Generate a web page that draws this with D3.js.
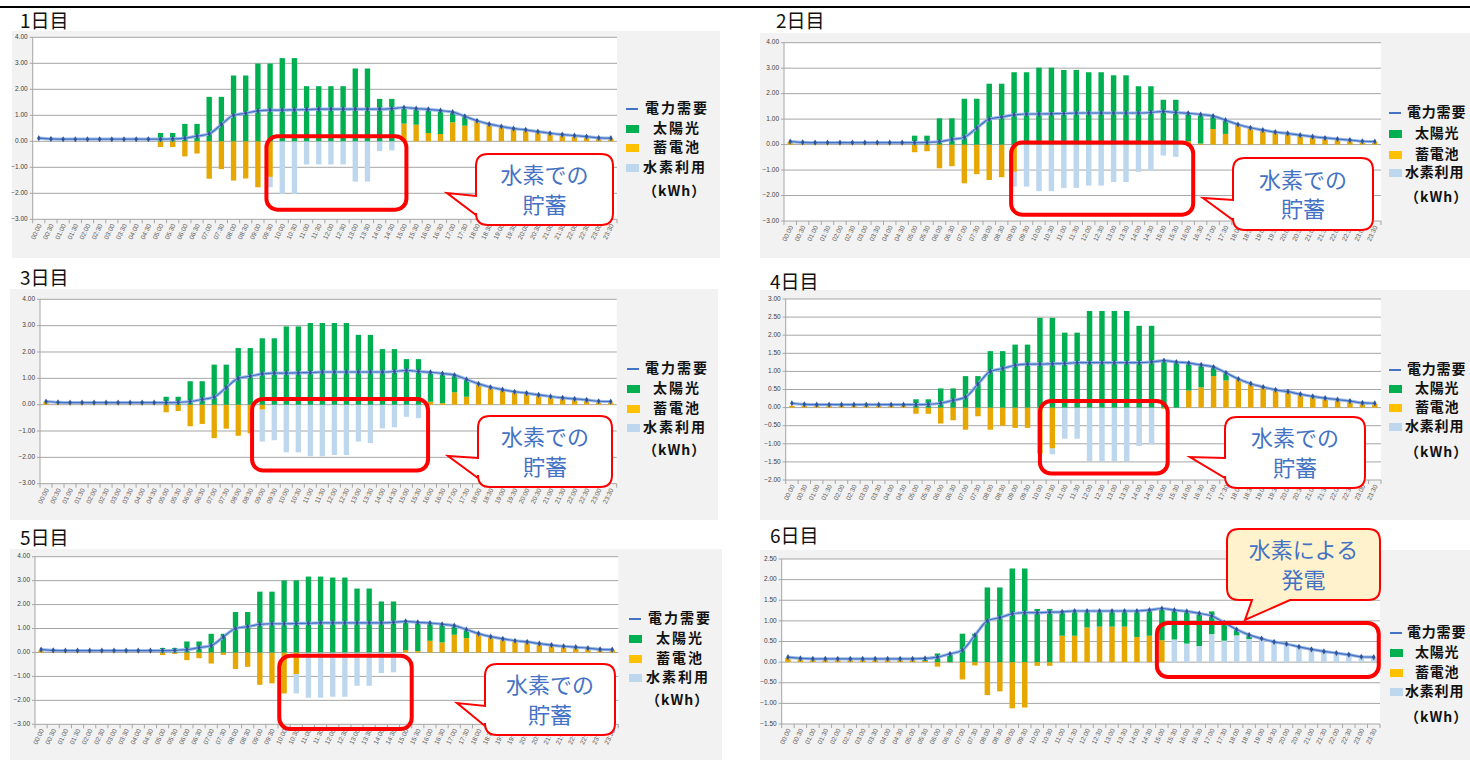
<!DOCTYPE html>
<html>
<head>
<meta charset="utf-8">
<script src="https://cdn.jsdelivr.net/npm/d3@7"></script>
<style>
  body { margin: 0; background: #fff; }
  svg { display: block; font-family: "Noto Sans CJK JP", "Noto Sans", sans-serif; }
</style>
</head>
<body>
<svg id="chart" width="1470" height="760"></svg>
<script>
// Half-hour slots (category labels)
const times = ["00:00","00:30","01:00","01:30","02:00","02:30","03:00","03:30","04:00","04:30",
  "05:00","05:30","06:00","06:30","07:00","07:30","08:00","08:30","09:00","09:30",
  "10:00","10:30","11:00","11:30","12:00","12:30","13:00","13:30","14:00","14:30",
  "15:00","15:30","16:00","16:30","17:00","17:30","18:00","18:30","19:00","19:30",
  "20:00","20:30","21:00","21:30","22:00","22:30","23:00","23:30"];

const seriesNames = ["電力需要", "太陽光", "蓄電池", "水素利用"];
const unitLabel = "（kWh）";
const dayTitles = ["1日目", "2日目", "3日目", "4日目", "5日目", "6日目"];

// Demand profile (same shape every day)
const demand = [0.12,0.09,0.08,0.08,0.08,0.08,0.08,0.08,0.08,0.08,
  0.08,0.09,0.12,0.2,0.29,0.65,1.0,1.08,1.17,1.2,
  1.2,1.21,1.22,1.24,1.24,1.24,1.24,1.24,1.24,1.26,
  1.3,1.26,1.23,1.18,1.12,0.96,0.79,0.66,0.57,0.49,
  0.44,0.37,0.31,0.26,0.22,0.18,0.13,0.12];

// Day 1
const solar1 = [0,0,0,0,0,0,0,0,0,0,
  0.32,0.32,0.67,0.67,1.71,1.71,2.53,2.53,2.99,2.99,
  3.2,3.2,2.12,2.12,2.12,2.12,2.8,2.8,1.63,1.63,
  0.6,0.62,0.9,0.9,0.42,0.39,0,0,0,0,
  0,0,0,0,0,0,0,0];
const battery1 = [0,0,0,0,0,0,0,0,0,0,
  -0.22,-0.22,-0.58,-0.47,-1.44,-1.07,-1.51,-1.43,-1.77,-1.37,
  0,0,0,0,0,0,0,0,0,0,
  0.68,0.64,0.32,0.28,0.73,0.6,0.81,0.64,0.55,0.49,
  0.42,0.36,0.3,0.23,0.19,0.15,0.1,0.1];
const hydrogen1 = [0,0,0,0,0,0,0,0,0,0,
  0,0,0,0,0,0,0,0,0,-0.4,
  -2.02,-2.02,-0.89,-0.89,-0.89,-0.89,-1.55,-1.55,-0.38,-0.35,
  0,0,0,0,0,0,0,0,0,0,
  0,0,0,0,0,0,0,0];

// Day 2
const solar2 = [0,0,0,0,0,0,0,0,0,0,
  0.35,0.35,1.03,1.03,1.8,1.8,2.39,2.39,2.84,2.84,
  3.02,3.02,2.93,2.93,2.84,2.84,2.72,2.72,2.29,2.29,
  1.76,1.76,1.11,1.14,0.54,0.53,0,0,0,0,
  0,0,0,0,0,0,0,0];
const battery2 = [0.1,0.08,0.08,0.08,0.08,0.08,0.08,0.08,0.08,0.08,
  -0.3,-0.26,-0.93,-0.85,-1.52,-1.16,-1.39,-1.28,-1.07,0,
  0,0,0,0,0,0,0,0,0,0,
  0,0,0.13,0.04,0.61,0.42,0.78,0.65,0.56,0.48,
  0.42,0.35,0.29,0.24,0.2,0.16,0.1,0.1];
const hydrogen2 = [0,0,0,0,0,0,0,0,0,0,
  0,0,0,0,0,0,0,0,-0.58,-1.65,
  -1.83,-1.83,-1.7,-1.7,-1.61,-1.61,-1.47,-1.47,-1.07,-1.02,
  -0.43,-0.48,0,0,0,0,0,0,0,0,
  0,0,0,0,0,0,0,0];

// Day 3
const solar3 = [0,0,0,0,0,0,0,0,0,0,
  0.3,0.3,0.89,0.89,1.52,1.52,2.15,2.15,2.52,2.52,
  2.97,2.97,3.1,3.1,3.1,3.1,2.65,2.65,2.11,2.11,
  1.73,1.73,1.14,1.14,0.66,0.64,0,0,0,0,
  0,0,0,0,0,0,0,0];
const battery3 = [0.1,0.05,0.05,0.05,0.05,0.05,0.05,0.05,0.05,0.05,
  -0.29,-0.24,-0.82,-0.73,-1.27,-0.91,-1.18,-1.09,-0.19,0,
  0,0,0,0,0,0,0,0,0,0,
  0,0,0.11,0.06,0.47,0.3,0.77,0.65,0.56,0.47,
  0.41,0.37,0.3,0.25,0.22,0.15,0.09,0.09];
const hydrogen3 = [0,0,0,0,0,0,0,0,0,0,
  0,0,0,0,0,0,0,0,-1.21,-1.35,
  -1.81,-1.81,-1.96,-1.96,-1.91,-1.91,-1.4,-1.46,-0.9,-0.86,
  -0.46,-0.51,0,0,0,0,0,0,0,0,
  0,0,0,0,0,0,0,0];

// Day 4
const solar4 = [0,0,0,0,0,0,0,0,0,0,
  0.23,0.23,0.53,0.53,0.87,0.87,1.56,1.56,1.74,1.74,
  2.48,2.48,2.07,2.07,2.67,2.67,2.67,2.67,2.26,2.26,
  1.31,1.24,0.75,0.62,0.25,0.2,0,0,0,0,
  0,0,0,0,0,0,0,0];
const battery4 = [0.05,0.05,0.05,0.05,0.05,0.05,0.05,0.05,0.05,0.05,
  -0.17,-0.17,-0.44,-0.35,-0.61,-0.24,-0.61,-0.5,-0.56,-0.56,
  -1.27,-1.13,0,0,0,0,0,0,0,0,
  -0.03,0,0.47,0.56,0.87,0.75,0.79,0.65,0.57,0.49,
  0.43,0.36,0.31,0.25,0.21,0.17,0.12,0.1];
const hydrogen4 = [0,0,0,0,0,0,0,0,0,0,
  0,0,0,0,0,0,0,0,0,0,
  0,-0.16,-0.86,-0.86,-1.48,-1.48,-1.48,-1.48,-1.06,-1.02,
  0,0,0,0,0,0,0,0,0,0,
  0,0,0,0,0,0,0,0];

// Day 5
const solar5 = [0,0,0,0,0,0,0,0,0,0,
  0.19,0.19,0.46,0.46,0.78,0.78,1.69,1.69,2.54,2.54,
  3.01,3.01,3.17,3.17,3.13,3.13,2.67,2.67,2.13,2.13,
  1.25,1.19,0.76,0.76,0.37,0.37,0,0,0,0,
  0,0,0,0,0,0,0,0];
const battery5 = [0.1,0.05,0.05,0.05,0.05,0.05,0.05,0.05,0.05,0.05,
  -0.11,-0.06,-0.32,-0.24,-0.46,-0.1,-0.69,-0.6,-1.35,-1.29,
  -1.71,-0.9,0,0,0,0,0,0,0,0,
  0.1,0.06,0.49,0.42,0.74,0.6,0.79,0.65,0.56,0.49,
  0.42,0.38,0.31,0.25,0.21,0.17,0.11,0.11];
const hydrogen5 = [0,0,0,0,0,0,0,0,0,0,
  0,0,0,0,0,0,0,0,0,0,
  0,-0.81,-1.89,-1.89,-1.85,-1.85,-1.39,-1.39,-0.86,-0.83,
  0,0,0,0,0,0,0,0,0,0,
  0,0,0,0,0,0,0,0];

// Day 6
const solar6 = [0,0,0,0,0,0,0,0,0,0,
  0,0.07,0.21,0.2,0.69,0.69,1.81,1.81,2.27,2.27,
  1.29,1.29,0.59,0.6,0.4,0.38,0.38,0.38,0.63,0.63,
  0.76,0.71,0.78,0.77,0.55,0.42,0.14,0.12,0,0,
  0,0,0,0,0,0,0,0];
const battery6 = [0.1,0.1,0.07,0.07,0.07,0.07,0.07,0.07,0.07,0.07,
  0.07,0.03,-0.11,-0.01,-0.42,-0.08,-0.8,-0.71,-1.12,-1.1,
  -0.09,-0.09,0.64,0.64,0.84,0.86,0.86,0.86,0.61,0.64,
  0.53,0,0,0,0,0,0,0,0,0,
  0,0,0,0,0,0,0,0];
const hydrogen6 = [0,0,0,0,0,0,0,0,0,0,
  0,0,0,0,0,0,0,0,0,0,
  0,0,0,0,0,0,0,0,0,0,
  0,0.55,0.45,0.39,0.68,0.52,0.65,0.56,0.57,0.49,
  0.43,0.35,0.29,0.25,0.21,0.19,0.13,0.11];

const solarDays = [solar1, solar2, solar3, solar4, solar5, solar6];
const batteryDays = [battery1, battery2, battery3, battery4, battery5, battery6];
const hydrogenDays = [hydrogen1, hydrogen2, hydrogen3, hydrogen4, hydrogen5, hydrogen6];

// Colours
const colDemand = "#4472C4";
const colSolar = "#00B050";
const colBattery = "#E6A800";
const colBatteryLegend = "#FFC000";
const colHydrogen = "#BDD7EE";
const colRed = "#FF0000";

// Panel layout (page pixels)
const panels = [
  { bg: [12, 31, 708, 227], title: [20, 28], x0: 32.7, x1: 617, yTop: 37.3, yBot: 219.3, dom: [-3, 4], step: 1,
    lx: 626, ltx: 645, ls: 2, ly: [109, 129, 148, 168, 192],
    box: [19.2, 30.7, 0.19, -2.63],
    call: { x: 476, y: 154, w: 137, h: 71, side: "left", ta: 196, tb: 215, tip: [447, 193], lines: ["水素での", "貯蓄"], fill: "#fff" } },
  { bg: [760, 33, 710, 225], title: [776, 28], x0: 784, x1: 1381, yTop: 42.7, yBot: 221, dom: [-3, 4], step: 1,
    lx: 1389, ltx: 1407, ls: 0.8, ly: [113, 134, 155, 173, 198],
    box: [18.26, 32.9, 0.08, -2.75],
    call: { x: 1233, y: 158, w: 140, h: 72, side: "left", ta: 200, tb: 220, tip: [1203, 198], lines: ["水素での", "貯蓄"], fill: "#fff" } },
  { bg: [10, 289, 708, 231], title: [20, 285], x0: 40, x1: 616.7, yTop: 299.3, yBot: 483.7, dom: [-3, 4], step: 1,
    lx: 627, ltx: 645, ls: 2, ly: [369, 389, 409, 428, 451],
    box: [17.65, 32.3, 0.22, -2.5],
    call: { x: 478, y: 416, w: 134, h: 71, side: "left", ta: 458, tb: 478, tip: [448, 456], lines: ["水素での", "貯蓄"], fill: "#fff" } },
  { bg: [760, 290, 710, 230], title: [770, 289], x0: 785.7, x1: 1381, yTop: 299, yBot: 480, dom: [-2, 3], step: 0.5,
    lx: 1389, ltx: 1407, ls: 0.8, ly: [370, 389, 408, 427, 453],
    box: [20.5, 30.8, 0.18, -1.82],
    call: { x: 1225, y: 417, w: 140, h: 71, side: "left", ta: 458, tb: 478, tip: [1190, 457], lines: ["水素での", "貯蓄"], fill: "#fff" } },
  { bg: [10, 549, 712, 211], title: [20, 545], x0: 35, x1: 618.3, yTop: 556.7, yBot: 724.3, dom: [-3, 4], step: 1,
    lx: 629, ltx: 648, ls: 2, ly: [619, 639, 659, 678, 701],
    box: [20.1, 31.0, -0.14, -3.2],
    call: { x: 485, y: 664, w: 130, h: 71, side: "left", ta: 706, tb: 726, tip: [457, 703], lines: ["水素での", "貯蓄"], fill: "#fff" } },
  { bg: [760, 550, 710, 210], title: [770, 543], x0: 781.7, x1: 1380, yTop: 559, yBot: 724, dom: [-1.5, 2.5], step: 0.5,
    lx: 1390, ltx: 1407, ls: 0.8, ly: [633, 653, 673, 692, 718],
    box: [30.1, 47.9, 0.95, -0.36],
    call: { x: 1227, y: 529, w: 153, h: 71, side: "bottom", ta: 1252, tb: 1290, tip: [1245, 620], lines: ["水素による", "発電"], fill: "#FFF2CC" } }
];

const svg = d3.select("#chart");

// Header rule at the top of the slide
svg.append("line")
  .attr("x1", 0).attr("x2", 1470).attr("y1", 7).attr("y2", 7)
  .attr("stroke", "#000").attr("stroke-width", 2);

const stack = d3.stack()
  .keys(["battery", "hydrogen", "solar"])
  .offset(d3.stackOffsetDiverging);

const fillFor = { battery: colBattery, hydrogen: colHydrogen, solar: colSolar };

panels.forEach((p, di) => {
  const g = svg.append("g");

  // chart area background
  g.append("rect")
    .attr("x", p.bg[0]).attr("y", p.bg[1]).attr("width", p.bg[2]).attr("height", p.bg[3])
    .attr("fill", "#F2F2F2");

  // title
  svg.append("text")
    .attr("x", p.title[0]).attr("y", p.title[1])
    .attr("font-size", 19).attr("fill", "#111")
    .text(dayTitles[di]);

  const x = d3.scaleBand().domain(times).range([p.x0, p.x1]).paddingInner(0.56).paddingOuter(0.28);
  const y = d3.scaleLinear().domain(p.dom).range([p.yBot, p.yTop]);
  const xIdx = d3.scaleLinear().domain([0, times.length]).range([p.x0, p.x1]);

  // plot area
  g.append("rect")
    .attr("x", p.x0).attr("y", p.yTop).attr("width", p.x1 - p.x0).attr("height", p.yBot - p.yTop)
    .attr("fill", "#fff");

  const yTicks = d3.range(p.dom[0], p.dom[1] + 1e-6, p.step);
  g.append("g").selectAll("line").data(yTicks).join("line")
    .attr("x1", p.x0 - 3).attr("x2", p.x1)
    .attr("y1", d => y(d)).attr("y2", d => y(d))
    .attr("stroke", "#A6A6A6").attr("stroke-width", 1);

  g.append("g").selectAll("text").data(yTicks).join("text")
    .attr("x", p.x0 - 5).attr("y", d => y(d))
    .attr("text-anchor", "end").attr("dominant-baseline", "middle")
    .attr("font-family", "Liberation Sans, sans-serif")
    .attr("font-size", 6.5).attr("fill", "#404040")
    .text(d => d3.format(".2f")(d));

  // axis lines
  g.append("line")
    .attr("x1", p.x0).attr("x2", p.x0).attr("y1", p.yTop).attr("y2", p.yBot)
    .attr("stroke", "#A6A6A6");

  g.append("g").selectAll("line").data(d3.range(times.length + 1)).join("line")
    .attr("x1", d => xIdx(d)).attr("x2", d => xIdx(d))
    .attr("y1", p.yBot).attr("y2", p.yBot + 4)
    .attr("stroke", "#A6A6A6");

  g.append("g").selectAll("text").data(times).join("text")
    .attr("transform", d => `translate(${x(d) + x.bandwidth() / 2 + 3},${p.yBot + 6}) rotate(-64)`)
    .attr("text-anchor", "end")
    .attr("font-family", "Liberation Sans, sans-serif")
    .attr("font-size", 6.5).attr("fill", "#595959")
    .text(d => d);

  // stacked bars
  const rows = times.map((t, i) => ({
    time: t,
    solar: solarDays[di][i],
    battery: batteryDays[di][i],
    hydrogen: hydrogenDays[di][i]
  }));
  const layers = stack(rows);

  g.append("g").selectAll("g").data(layers).join("g")
    .attr("fill", d => fillFor[d.key])
    .selectAll("rect").data(d => d).join("rect")
    .attr("x", d => x(d.data.time))
    .attr("width", x.bandwidth())
    .attr("y", d => y(Math.max(d[0], d[1])))
    .attr("height", d => Math.abs(y(d[0]) - y(d[1])));

  // demand line
  const line = d3.line()
    .x((d, i) => x(times[i]) + x.bandwidth() / 2)
    .y(d => y(d))
    .curve(d3.curveMonotoneX);

  g.append("path").datum(demand)
    .attr("d", line).attr("fill", "none")
    .attr("stroke", "#9DB9E6").attr("stroke-width", 3.2);
  g.append("path").datum(demand)
    .attr("d", line).attr("fill", "none")
    .attr("stroke", colDemand).attr("stroke-width", 1.2);

  g.append("g").selectAll("path").data(demand).join("path")
    .attr("transform", (d, i) => `translate(${x(times[i]) + x.bandwidth() / 2},${y(d)})`)
    .attr("d", d3.symbol(d3.symbolDiamond).size(11))
    .attr("fill", "#2F5597");

  // legend
  const legendItems = [
    { name: seriesNames[0], kind: "line", color: colDemand, dx: 0 },
    { name: seriesNames[1], kind: "rect", color: colSolar, dx: 8 },
    { name: seriesNames[2], kind: "rect", color: colBatteryLegend, dx: 8 },
    { name: seriesNames[3], kind: "rect", color: colHydrogen, dx: -2 }
  ];
  legendItems.forEach((it, k) => {
    const ly = p.ly[k];
    if (it.kind === "line") {
      g.append("line")
        .attr("x1", p.lx).attr("x2", p.lx + 12).attr("y1", ly).attr("y2", ly)
        .attr("stroke", it.color).attr("stroke-width", 2);
    } else {
      g.append("rect")
        .attr("x", p.lx).attr("y", ly - 4).attr("width", 13).attr("height", 8)
        .attr("fill", it.color);
    }
    g.append("text")
      .attr("x", p.ltx + it.dx).attr("y", ly)
      .attr("dominant-baseline", "middle")
      .attr("font-size", 14).attr("letter-spacing", p.ls).attr("font-weight", 700).attr("fill", "#111")
      .text(it.name);
  });
  g.append("text")
    .attr("x", p.ltx - 2).attr("y", p.ly[4])
    .attr("dominant-baseline", "middle")
    .attr("font-size", 14).attr("letter-spacing", 1).attr("font-weight", 700).attr("fill", "#111")
    .text(unitLabel);

  // red highlight box, placed on the chart's own scales
  const [i0, i1, v0, v1] = p.box;
  svg.append("rect")
    .attr("x", xIdx(i0)).attr("y", y(v0))
    .attr("width", xIdx(i1) - xIdx(i0)).attr("height", y(v1) - y(v0))
    .attr("rx", 11)
    .attr("fill", "none").attr("stroke", colRed).attr("stroke-width", 4);

  // callout bubble
  const c = p.call, r = 12;
  const X = c.x, Y = c.y, W = c.w, H = c.h;
  let d;
  if (c.side === "left") {
    d = `M${X + r},${Y} H${X + W - r} Q${X + W},${Y} ${X + W},${Y + r} V${Y + H - r} Q${X + W},${Y + H} ${X + W - r},${Y + H}` +
        ` H${X + r} Q${X},${Y + H} ${X},${Y + H - r} V${c.tb} L${c.tip[0]},${c.tip[1]} L${X},${c.ta} V${Y + r} Q${X},${Y} ${X + r},${Y} Z`;
  } else {
    d = `M${X + r},${Y} H${X + W - r} Q${X + W},${Y} ${X + W},${Y + r} V${Y + H - r} Q${X + W},${Y + H} ${X + W - r},${Y + H}` +
        ` H${c.tb} L${c.tip[0]},${c.tip[1]} L${c.ta},${Y + H} H${X + r} Q${X},${Y + H} ${X},${Y + H - r} V${Y + r} Q${X},${Y} ${X + r},${Y} Z`;
  }
  svg.append("path").attr("d", d)
    .attr("fill", c.fill).attr("stroke", colRed).attr("stroke-width", 2);
  c.lines.forEach((t, k) => {
    svg.append("text")
      .attr("x", X + W / 2).attr("y", Y + H * (k === 0 ? 0.33 : 0.74))
      .attr("text-anchor", "middle").attr("dominant-baseline", "middle")
      .attr("font-size", 22).attr("fill", colDemand)
      .text(t);
  });
});
</script>
</body>
</html>
